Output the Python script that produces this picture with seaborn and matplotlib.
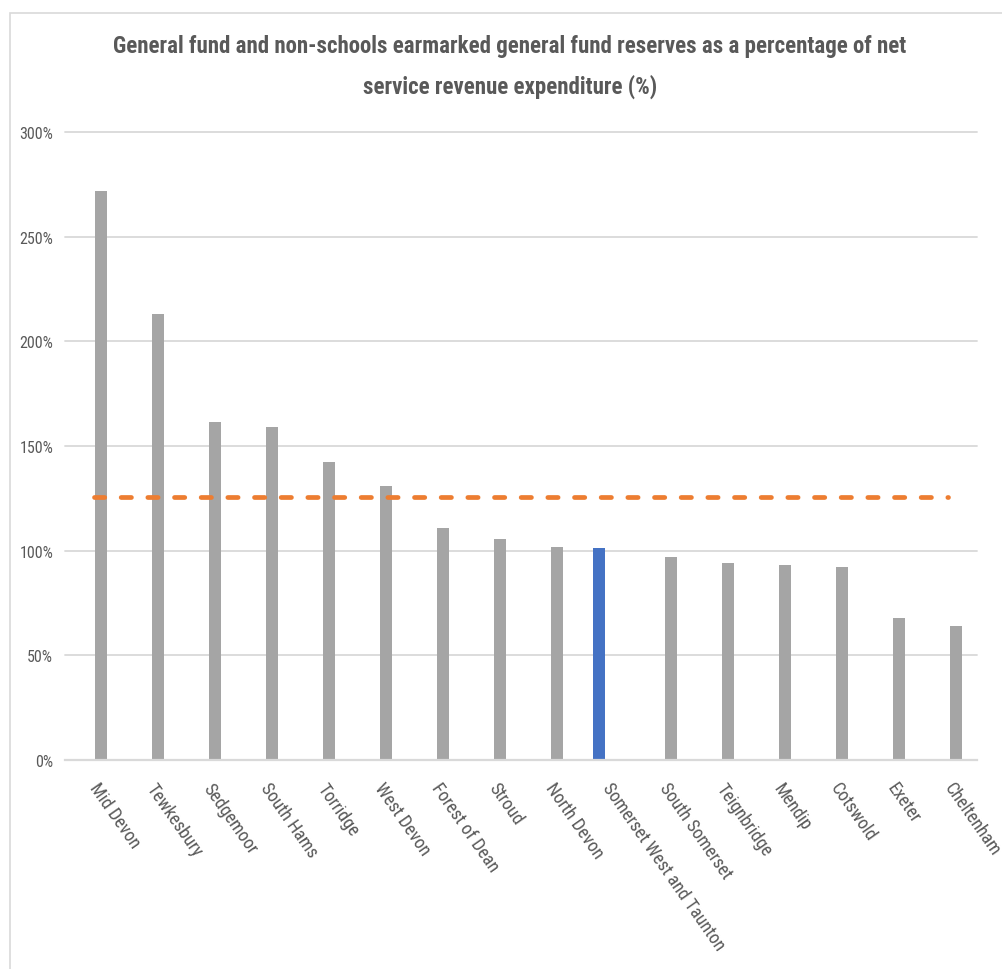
import matplotlib
matplotlib.use("Agg")
import matplotlib.pyplot as plt
import seaborn as sns
import pandas as pd
from matplotlib import font_manager
from matplotlib.patches import Rectangle
from matplotlib.ticker import FuncFormatter
from matplotlib.transforms import ScaledTranslation

# ---- data ----
councils = ["Mid Devon", "Tewkesbury", "Sedgemoor", "South Hams", "Torridge",
            "West Devon", "Forest of Dean", "Stroud", "North Devon",
            "Somerset West and Taunton", "South Somerset", "Teignbridge",
            "Mendip", "Cotswold", "Exeter", "Cheltenham"]
reserves_pct = [271.9, 213.1, 161.5, 159.2, 142.5, 130.8, 110.8, 105.6, 101.8,
                101.3, 97.0, 94.1, 93.2, 92.2, 67.8, 64.0]
highlight = "Somerset West and Taunton"
average_pct = 125.5
y_ticks = [0, 50, 100, 150, 200, 250, 300]
title = ("General fund and non-schools earmarked general fund reserves as a percentage of net\n"
         "service revenue expenditure (%)")

# ---- style ----
sns.set_theme(style="white")
names = {f.name for f in font_manager.fontManager.ttflist}
fam = "Lato"
for cand in ["Liberation Sans Narrow", "Roboto Condensed", "Open Sans Condensed", "Lato"]:
    if cand in names:
        fam = cand
        break
plt.rcParams['font.family'] = [fam, 'DejaVu Sans']
plt.rcParams['lines.scale_dashes'] = False

text_col = "#595959"
grid_col = "#D9D9D9"

df = pd.DataFrame({
    "council": councils,
    "value": reserves_pct,
    "group": ["Highlight" if c == highlight else "Other" for c in councils],
})

W, H = 1002, 970
fig = plt.figure(figsize=(W / 100, H / 100), dpi=100)
ax = fig.add_axes([65 / W, (H - 761) / H, (977 - 65) / W, (761 - 133) / H])

sns.barplot(data=df, x="council", y="value", hue="group",
            hue_order=["Highlight", "Other"], order=councils,
            palette={"Highlight": "#4472C4", "Other": "#A5A5A5"},
            saturation=1, width=0.52, gap=0.15, dodge=True, linewidth=0,
            legend=False, ax=ax, zorder=2)

ax.hlines(average_pct, 0, len(councils) - 1, colors="#ED7D31", linewidth=3.4,
          linestyles=(0, (7.4, 11.8)), capstyle="round", zorder=3)

ax.set_xlim(-0.5, len(councils) - 0.5)
ax.set_ylim(0, 300)
ax.set_yticks(y_ticks)
ax.yaxis.set_major_formatter(FuncFormatter(lambda v, p: f"{v:.0f}%"))
ax.yaxis.grid(True, color=grid_col, linewidth=1.3, zorder=0)
ax.set_axisbelow(True)
for gl in ax.get_ygridlines():
    gl.set_clip_on(False)
for s in ["top", "right", "left"]:
    ax.spines[s].set_visible(False)
ax.spines["bottom"].set_color(grid_col)
ax.spines["bottom"].set_linewidth(1.6)
ax.set_xlabel("")
ax.set_ylabel("")

ax.tick_params(axis="y", length=0, pad=8.5, labelsize=11.5, labelcolor=text_col)
ax.tick_params(axis="x", length=0, pad=14, labelsize=13, labelcolor=text_col)
ax.set_xticks(range(len(councils)))
ax.set_xticklabels(councils, rotation=-55, ha="left", va="top", rotation_mode="anchor")
shift = ScaledTranslation(5 / 72, 0, fig.dpi_scale_trans)
for lbl in ax.get_xticklabels():
    lbl.set_transform(lbl.get_transform() + shift)

fig.text(0.509, 1 - 67 / H, title, ha="center", va="center", fontsize=16.5,
         fontweight="bold", color=text_col, linespacing=1.9)

fig.add_artist(Rectangle((10 / W, -0.1), 1.2, (H - 14) / H + 0.1,
                         transform=fig.transFigure, fill=False,
                         edgecolor=grid_col, linewidth=1.2))

fig.savefig("out.png", dpi=100, facecolor="white")
